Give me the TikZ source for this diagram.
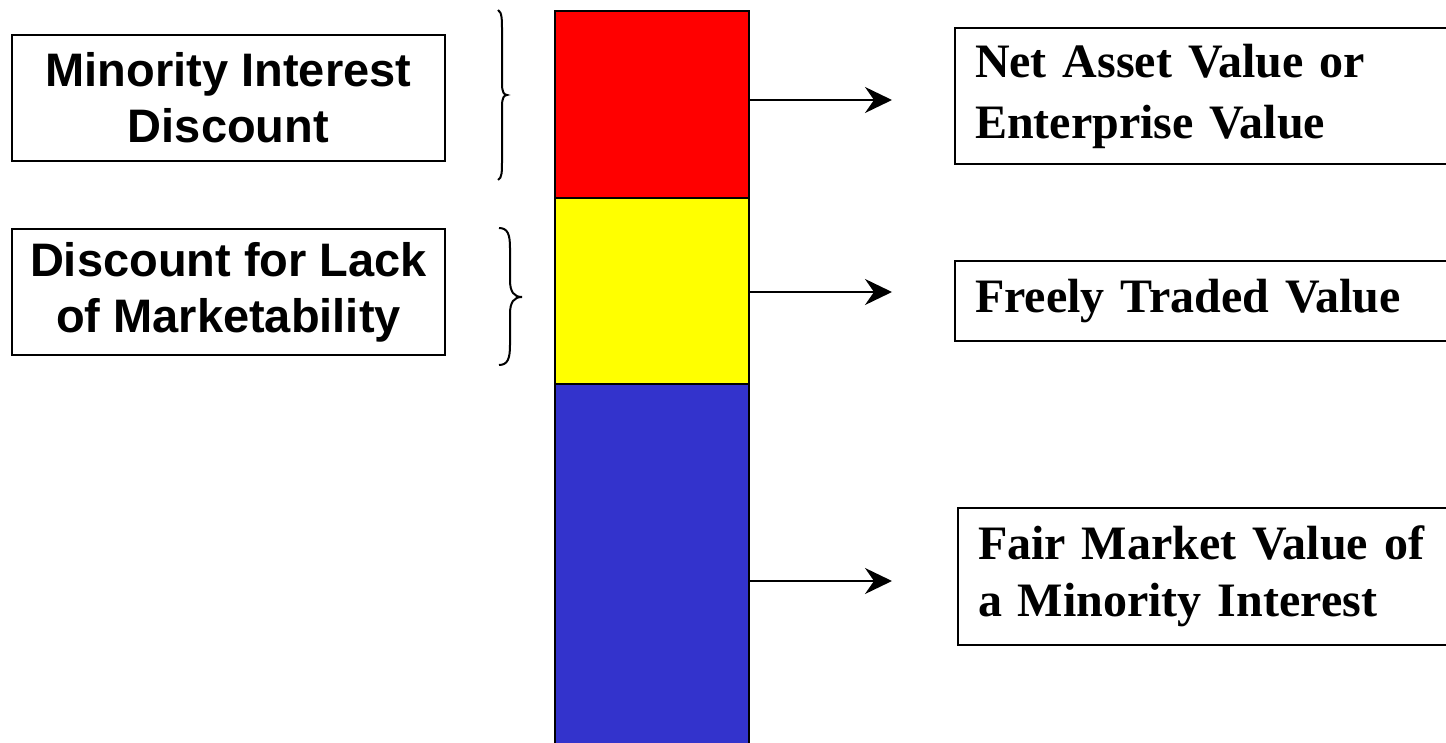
\documentclass[tikz,border=0pt]{standalone}
\usepackage{fontspec}
\setmainfont{Liberation Serif}
\newfontfamily\arialfont{Liberation Sans}
\usetikzlibrary{arrows.meta}
\definecolor{barred}{RGB}{255,0,0}
\definecolor{baryellow}{RGB}{255,255,0}
\definecolor{barblue}{RGB}{51,51,204}
\begin{document}
\begin{tikzpicture}[x=1pt,y=-1pt,
 seg/.style={draw=black, line width=2pt, minimum width=194pt, inner sep=0pt, anchor=north west},
 lbox/.style={draw=black, line width=2pt, inner sep=0pt, minimum width=433pt, minimum height=126pt, align=center, font=\arialfont\bfseries\fontsize{47}{56}\selectfont, anchor=north west},
 rbox/.style={draw=black, line width=2pt, inner xsep=20pt, inner ysep=0pt, text width=490pt, align=left, anchor=north west, font=\bfseries\fontsize{48}{57}\selectfont},
 arr/.style={line width=2pt, -{Stealth[length=27pt,width=26pt,inset=9pt]}},
 bracestyle/.style={line width=2pt}
]
\useasboundingbox (0,0) rectangle (1446,743);
% bar
\node[seg, fill=barred, minimum height=187pt] (red) at (554,10) {};
\node[seg, fill=baryellow, minimum height=186pt] (yellow) at (554,197) {};
\node[seg, fill=barblue, minimum height=380pt] (blue) at (554,383) {};
% left boxes
\node[lbox] (lb1) at (11,34) {Minority Interest\\Discount};
\node[lbox] (lb2) at (11,228) {Discount for Lack\\of Marketability};
% right boxes
\node[rbox, minimum height=136pt, font=\bfseries\fontsize{48}{61}\selectfont] (rb1) at (954,27) {Net Asset Value or\\Enterprise Value};
\node[rbox, minimum height=80pt] (rb2) at (954,260) {Freely Traded Value};
\node[rbox, minimum height=137pt] (rb3) at (957,507) {Fair Market Value of\\a Minority Interest};
% arrows
\coordinate (a1) at (892,100);
\coordinate (a2) at (892,292);
\coordinate (a3) at (892,581);
\draw[arr] (red.east |- a1) -- (a1);
\draw[arr] (yellow.east |- a2) -- (a2);
\draw[arr] (blue.east |- a3) -- (a3);
% braces
\draw[bracestyle] (498,10) .. controls (502,12) and (502,20) .. (502,30) -- (502,84)
  .. controls (502,92) and (504,95) .. (507,95)
  .. controls (504,95) and (502,98) .. (502,106) -- (502,160)
  .. controls (502,172) and (502,178) .. (498,180);
\draw[bracestyle] (499,228) .. controls (508,228) and (510,235) .. (510,248) -- (510,280)
  .. controls (510,292) and (514,297) .. (522,297)
  .. controls (514,297) and (510,302) .. (510,314) -- (510,345)
  .. controls (510,358) and (508,365) .. (499,365);
\end{tikzpicture}
\end{document}
